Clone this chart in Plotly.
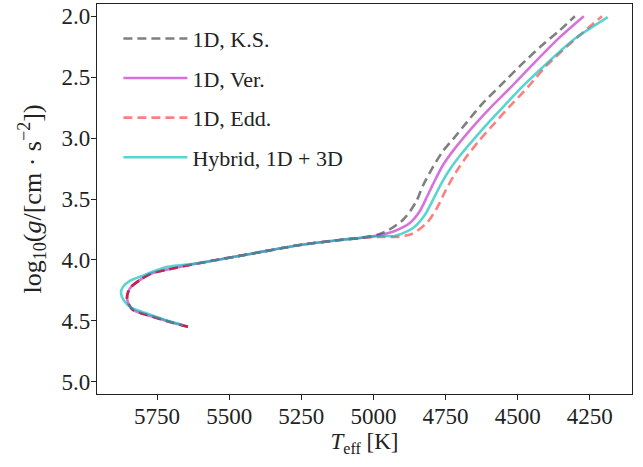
import plotly.graph_objects as go

# Shared main-sequence / subgiant part (for 1D K.S., 1D Ver., 1D Edd.)
teff_common = [5643, 5695, 5764, 5809, 5833, 5847, 5854, 5850, 5840, 5809, 5774,
               5688, 5601, 5428, 5255, 5116, 5047]
logg_common = [4.549, 4.516, 4.467, 4.434, 4.410, 4.369, 4.311, 4.262, 4.221, 4.164,
               4.115, 4.066, 4.025, 3.951, 3.877, 3.836, 3.820]

# Red-giant branch parts
teff_ks = [4978, 4936, 4898, 4870, 4849, 4829, 4794, 4759, 4721, 4676, 4624, 4562,
           4493, 4423, 4354, 4302]
logg_ks = [3.787, 3.738, 3.672, 3.590, 3.508, 3.393, 3.238, 3.107, 3.000, 2.869,
           2.721, 2.574, 2.410, 2.254, 2.115, 2.000]

teff_ver = [4978, 4926, 4874, 4839, 4815, 4790, 4759, 4725, 4686, 4641, 4586, 4520,
            4437, 4354, 4271]
logg_ver = [3.795, 3.762, 3.697, 3.598, 3.484, 3.361, 3.221, 3.107, 2.992, 2.869,
            2.730, 2.574, 2.369, 2.172, 2.000]

teff_edd = [4978, 4919, 4867, 4815, 4780, 4749, 4714, 4676, 4635, 4583, 4527, 4465,
            4402, 4305, 4208]
logg_edd = [3.811, 3.811, 3.787, 3.697, 3.574, 3.426, 3.279, 3.148, 3.025, 2.885,
            2.738, 2.582, 2.410, 2.197, 2.000]

teff_hyb = [5660, 5722, 5792, 5837, 5864, 5875, 5868, 5844, 5802, 5715, 5601, 5428,
            5255, 5116, 5047, 4978, 4926, 4863, 4822, 4794, 4766, 4732, 4693, 4652,
            4603, 4548, 4486, 4406, 4309, 4188]
logg_hyb = [4.533, 4.492, 4.434, 4.393, 4.336, 4.270, 4.221, 4.172, 4.131, 4.057,
            4.025, 3.951, 3.877, 3.836, 3.820, 3.803, 3.803, 3.738, 3.631, 3.508,
            3.377, 3.246, 3.123, 3.008, 2.877, 2.738, 2.582, 2.402, 2.197, 2.008]

names = ["1D, K.S.", "1D, Ver.", "1D, Edd.", "Hybrid, 1D + 3D"]
x_ticks = [5750, 5500, 5250, 5000, 4750, 4500, 4250]
y_ticks = [2.0, 2.5, 3.0, 3.5, 4.0, 4.5, 5.0]

series = [
    (names[0], teff_common + teff_ks, logg_common + logg_ks, "rgba(0,0,0,0.5)", "9px,5px"),
    (names[1], teff_common + teff_ver, logg_common + logg_ver, "rgba(180,0,190,0.55)", "solid"),
    (names[2], teff_common + teff_edd, logg_common + logg_edd, "rgba(255,0,0,0.5)", "9px,5px"),
    (names[3], teff_hyb, logg_hyb, "rgba(0,190,185,0.65)", "solid"),
]

font_family = "Liberation Serif, DejaVu Serif, serif"

fig = go.Figure()
for i, (nm, xs, ys, col, dash) in enumerate(series):
    fig.add_trace(go.Scatter(
        x=xs, y=ys, mode="lines", name=nm, legendgroup=f"g{i}",
        line=dict(color=col, width=2.6, dash=dash, shape="spline", smoothing=0.7),
    ))

axis_common = dict(
    showgrid=False, zeroline=False, showline=True, linecolor="#222", linewidth=1.2,
    mirror=True, ticks="outside", ticklen=5, tickwidth=1.2, tickcolor="#222",
    tickfont=dict(family=font_family, size=23, color="#222"),
    automargin=False, ticklabelstandoff=-4,
)

fig.update_layout(
    width=643, height=467,
    margin=dict(l=97, r=11, t=4, b=73),
    paper_bgcolor="white", plot_bgcolor="white",
    font=dict(family=font_family, size=22, color="#222"),
    showlegend=True,
    legend=dict(
        x=0.04, y=0.965, xanchor="left", yanchor="top",
        bgcolor="rgba(255,255,255,0)", borderwidth=0,
        font=dict(family=font_family, size=22, color="#222"),
        tracegroupgap=8, itemwidth=64,
    ),
    xaxis=dict(
        range=[5958, 4104], tickvals=x_ticks,
        ticktext=[str(v) for v in x_ticks],
        title=dict(text="<i>T</i><sub>eff</sub> [K]", standoff=0,
                   font=dict(family=font_family, size=23)),
        **axis_common,
    ),
    yaxis=dict(
        range=[5.1, 1.9], tickvals=y_ticks,
        ticktext=[f"{v:.1f}" for v in y_ticks],
        title=dict(text="log<sub>10</sub>(<i>g</i>/[cm · s<sup>−2</sup>])", standoff=12,
                   font=dict(family=font_family, size=26)),
        **axis_common,
    ),
)

fig.write_html("out.html", config={"displayModeBar": False},
               post_script="document.body.style.margin='0px';")
